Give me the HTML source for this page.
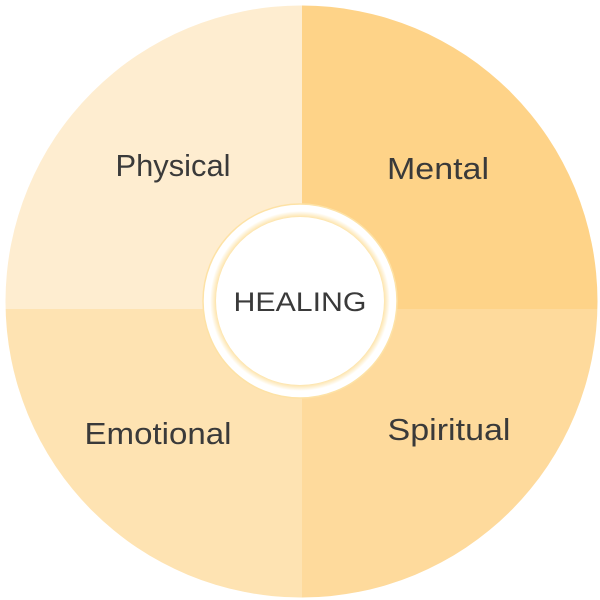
<!DOCTYPE html>
<html><head><style>html,body{margin:0;padding:0;background:#fff;width:600px;height:600px;overflow:hidden}</style></head>
<body>
<svg width="600" height="600" viewBox="0 0 600 600" xmlns="http://www.w3.org/2000/svg">
<defs>
<clipPath id="c"><circle cx="301.5" cy="301.5" r="296"/></clipPath>
<radialGradient id="g" cx="0.5" cy="0.5" r="0.5">
<stop offset="0.86" stop-color="#fff"/>
<stop offset="0.93" stop-color="#fde3a8"/>
<stop offset="1" stop-color="#fff"/>
</radialGradient>
</defs>
<g clip-path="url(#c)">
<rect x="0" y="0" width="302" height="309" fill="#feedd0"/>
<rect x="302" y="0" width="300" height="309" fill="#fed388"/>
<rect x="0" y="309" width="302" height="300" fill="#fee3b2"/>
<rect x="302" y="309" width="300" height="300" fill="#feda9c"/>
</g>
<circle cx="300" cy="301" r="97" fill="#fff" stroke="#fde2a6" stroke-width="1.5"/>
<circle cx="300" cy="301" r="90" fill="url(#g)"/>
<circle cx="300" cy="301" r="84" fill="#fff"/>
<g font-family="Liberation Sans, sans-serif" fill="#3a3a3a" text-anchor="middle">
<text x="173" y="176" font-size="31" textLength="115" lengthAdjust="spacingAndGlyphs">Physical</text>
<text x="438" y="179" font-size="31" textLength="102" lengthAdjust="spacingAndGlyphs">Mental</text>
<text x="158" y="444" font-size="31" textLength="147" lengthAdjust="spacingAndGlyphs">Emotional</text>
<text x="449" y="440" font-size="31" textLength="123" lengthAdjust="spacingAndGlyphs">Spiritual</text>
<text x="300" y="311" font-size="27" textLength="133" lengthAdjust="spacingAndGlyphs">HEALING</text>
</g>
</svg>
</body></html>
